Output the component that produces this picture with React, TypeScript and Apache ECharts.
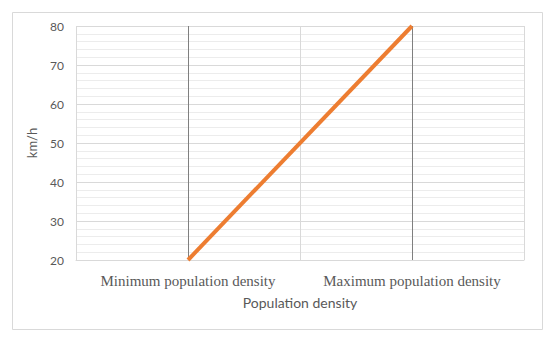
import React, { useEffect, useRef } from "react";
import * as echarts from "echarts";

const categories = ["Minimum population density", "Maximum population density"];
const speedValues = [20, 80];
const yMin = 20;
const yMax = 80;
const yInterval = 10;

export default function App() {
  const ref = useRef<HTMLDivElement>(null);
  useEffect(() => {
    if (!ref.current) return;
    const chart = echarts.init(ref.current, undefined, { renderer: "svg" });
    chart.setOption({
      animation: false,
      backgroundColor: "#ffffff",
      graphic: [
        {
          type: "rect",
          left: 10,
          top: 10,
          shape: { width: 530, height: 317 },
          style: { fill: "none", stroke: "#d9d9d9", lineWidth: 1 },
          silent: true,
        },
      ],
      grid: { left: 76, right: 26, top: 26, bottom: 77 },
      xAxis: {
        type: "category",
        data: categories,
        boundaryGap: true,
        name: "Population density",
        nameLocation: "middle",
        nameGap: 35,
        nameTextStyle: { fontFamily: "Lato", fontSize: 14, color: "#595959" },
        axisLine: { show: true, lineStyle: { color: "#d9d9d9" } },
        axisTick: { show: false, interval: 0 },
        axisLabel: {
          interval: 0,
          fontFamily: "Liberation Serif",
          fontSize: 15,
          color: "#595959",
          margin: 13,
        },
        splitLine: { show: true, interval: 0, lineStyle: { color: "#d9d9d9", width: 1 } },
      },
      yAxis: {
        type: "value",
        min: yMin,
        max: yMax,
        interval: yInterval,
        name: "km/h",
        nameLocation: "middle",
        nameRotate: 90,
        nameGap: 38,
        nameTextStyle: { fontFamily: "Lato", fontSize: 13, color: "#595959" },
        axisLine: { show: false },
        axisTick: { show: false },
        axisLabel: { fontFamily: "Lato", fontSize: 12, color: "#595959", margin: 12 },
        splitLine: { show: true, lineStyle: { color: "#d9d9d9", width: 1 } },
        minorTick: { show: false, splitNumber: 5 },
        minorSplitLine: { show: true, lineStyle: { color: "#ececec", width: 1 } },
      },
      series: [
        {
          type: "line",
          data: speedValues,
          symbol: "none",
          lineStyle: { color: "#ED7D31", width: 4 },
          z: 3,
          markLine: {
            silent: true,
            symbol: "none",
            label: { show: false },
            lineStyle: { color: "#7f7f7f", width: 1, type: "solid" },
            data: categories.map((c) => ({ xAxis: c })),
            z: 2,
          },
        },
      ],
    });
    return () => chart.dispose();
  }, []);
  return (
    <div
      ref={ref}
      style={{ position: "fixed", left: 0, top: 0, width: 550, height: 337 }}
    />
  );
}
